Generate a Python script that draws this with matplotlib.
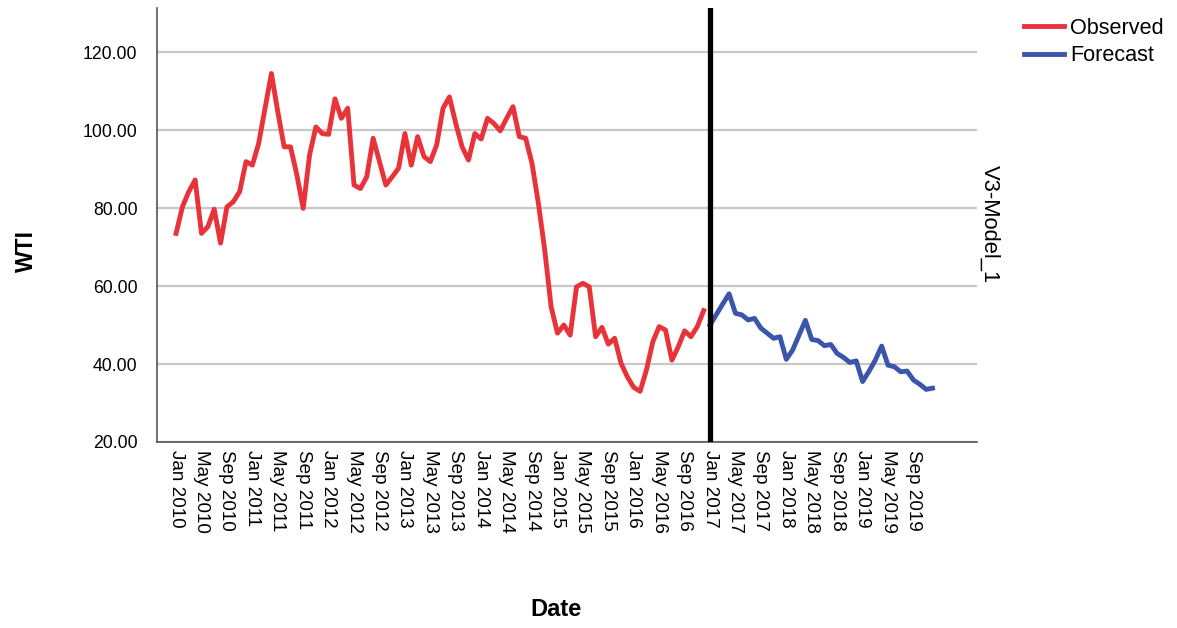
import numpy as np
import matplotlib
matplotlib.use('Agg')
import matplotlib.pyplot as plt

plt.rcParams['font.family'] = ['Liberation Sans', 'DejaVu Sans']

# monthly WTI, observed Jan 2010 - Dec 2016
observed = [73.5, 80.3, 84.2, 87.2, 73.5, 75.2, 79.7, 71.0, 80.3, 81.6, 84.2, 91.9,
            91.0, 96.6, 105.6, 114.5, 104.7, 95.7, 95.7, 88.5, 79.9, 93.6, 100.8, 99.1,
            98.9, 108.0, 103.0, 105.6, 85.9, 85.0, 88.0, 97.9, 91.9, 85.9, 88.0, 90.2,
            99.1, 91.0, 98.3, 93.2, 91.9, 96.2, 105.6, 108.5, 101.7, 95.7, 92.3, 99.1,
            97.7, 103.0, 101.7, 99.8, 103.0, 106.0, 98.3, 97.9, 91.4, 81.2, 69.2, 54.7,
            47.9, 50.0, 47.4, 59.8, 60.7, 59.8, 47.0, 49.4, 45.1, 46.6, 40.2, 36.7,
            34.0, 33.0, 38.5, 45.7, 49.6, 48.7, 41.0, 44.4, 48.5, 47.0, 49.6, 53.7]
# forecast Jan 2017 - Dec 2019
forecast = [50.0, 52.7, 55.4, 58.0, 53.0, 52.6, 51.3, 51.7, 49.2, 47.9, 46.6, 47.0,
            41.2, 43.6, 47.4, 51.2, 46.3, 46.0, 44.7, 45.0, 42.7, 41.7, 40.4, 40.8,
            35.5, 38.1, 41.0, 44.6, 39.7, 39.3, 38.0, 38.2, 35.9, 34.8, 33.5, 33.8]

months = ['Jan', 'May', 'Sep']
years = list(range(2010, 2020))
tick_labels = ['%s %d' % (m, y) for y in years for m in months]
forecast_start = len(observed)

x_obs = np.arange(len(observed))
x_fc = np.arange(forecast_start, forecast_start + len(forecast))

fig = plt.figure(figsize=(11.77, 6.28), dpi=100)
ax = fig.add_axes([157 / 1177, 1 - 442 / 628, 820 / 1177, 434 / 628])

ax.plot(x_obs, observed, color='#e8333b', linewidth=3.5, label='Observed', zorder=3)
ax.plot(x_fc, forecast, color='#3b55aa', linewidth=3.5, label='Forecast', zorder=3)
ax.axvline(x=forecast_start, color='black', linewidth=3.8, zorder=4)

ax.set_xlim(-3, 126)
ax.set_ylim(20, 131.3)
ax.set_yticks([20, 40, 60, 80, 100, 120])
ax.set_yticklabels(['%.2f' % v for v in [20, 40, 60, 80, 100, 120]], fontsize=12.7)
ax.set_xticks(np.arange(0, 120, 4))
ax.set_xticklabels(tick_labels, rotation=270, fontsize=13.6, ha='center', va='top')
ax.tick_params(axis='y', length=0, pad=14)
ax.tick_params(axis='x', length=0, pad=6)

ax.grid(axis='y', color='#c8c8c8', linewidth=1.6, zorder=1)
ax.set_axisbelow(True)
for s in ['top', 'right']:
    ax.spines[s].set_visible(False)
ax.spines['left'].set_color('#555555')
ax.spines['bottom'].set_color('#555555')
ax.spines['left'].set_linewidth(1.2)
ax.spines['bottom'].set_linewidth(1.2)

fig.text(26 / 1177, 1 - 251 / 628, 'WTI', rotation=90, ha='center', va='center',
         fontsize=16.5, fontweight='bold')
fig.text(556 / 1177, 1 - 610 / 628, 'Date', ha='center', va='center',
         fontsize=17, fontweight='bold')
fig.text(990 / 1177, 1 - 224 / 628, 'V3-Model_1', rotation=270, ha='center', va='center',
         fontsize=15.8)

fig.legend(loc='upper left', bbox_to_anchor=(1015 / 1177, 1 - 9 / 628), frameon=False,
           fontsize=15.6, handlelength=1.85, handletextpad=0.3, labelspacing=0.3,
           borderaxespad=0)

fig.savefig('out.png', dpi=100)
